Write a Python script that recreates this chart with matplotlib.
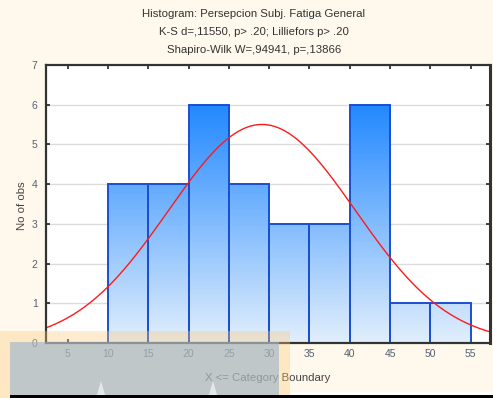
import numpy as np
import matplotlib
matplotlib.use("Agg")
import matplotlib.pyplot as plt
from matplotlib.colors import LinearSegmentedColormap
from matplotlib.patches import Rectangle, Polygon

# ---- data ----
bin_edges = [10, 15, 20, 25, 30, 35, 40, 45, 50, 55]
counts = [4, 4, 6, 4, 3, 3, 6, 1, 1]
fit_mean = 29.1
fit_sd = 11.6
x_ticks = [5, 10, 15, 20, 25, 30, 35, 40, 45, 50, 55]
y_ticks = [0, 1, 2, 3, 4, 5, 6, 7]
title_lines = ["Histogram: Persepcion Subj. Fatiga General",
               "K-S d=,11550, p> .20; Lilliefors p> .20",
               "Shapiro-Wilk W=,94941, p=,13866"]
x_label = "X <= Category Boundary"
y_label = "No of obs"

plt.rcParams['font.family'] = ['Liberation Sans', 'DejaVu Sans']

W, H = 493, 398
fig = plt.figure(figsize=(W / 100, H / 100), dpi=100, facecolor="#fef9ec")
L, R, T, B = 46, 490, 65, 343
ax = fig.add_axes([L / W, 1 - B / H, (R - L) / W, (B - T) / H])
ax.set_facecolor("white")
xmin, xmax = 2.3, 57.4
ax.set_xlim(xmin, xmax)
ax.set_ylim(0, 7)

# gridlines
for yv in y_ticks[1:-1]:
    ax.axhline(yv, color="#dcdcdc", lw=1.0, zorder=0.5)

# gradient bars
cmap = LinearSegmentedColormap.from_list("g", ["#e2effc", "#2288ff"])
grad = np.linspace(0, 1, 256).reshape(-1, 1)
width = bin_edges[1] - bin_edges[0]
for left, c in zip(bin_edges[:-1], counts):
    rect = Rectangle((left, 0), width, c, facecolor="none",
                     edgecolor="#1a4fd0", lw=1.4, zorder=3)
    ax.add_patch(rect)
    im = ax.imshow(grad, extent=[left, left + width, 0, 6], origin="lower",
                   cmap=cmap, aspect="auto", zorder=2, interpolation="bilinear")
    clip = Rectangle((left, 0), width, c, transform=ax.transData)
    im.set_clip_path(clip)
ax.set_xlim(xmin, xmax)
ax.set_ylim(0, 7)

# normal curve
n = sum(counts)
xs = np.linspace(xmin, xmax, 400)
ys = n * width / (fit_sd * np.sqrt(2 * np.pi)) * np.exp(-0.5 * ((xs - fit_mean) / fit_sd) ** 2)
ax.plot(xs, ys, color="#ff1a1a", lw=1.0, zorder=4)

# axes styling
for s in ax.spines.values():
    s.set_color("#333333")
    s.set_linewidth(1.6)
    s.set_zorder(5)
ax.spines["right"].set_linewidth(2.2)
ax.set_xticks(x_ticks)
ax.set_yticks(y_ticks)
ax.tick_params(direction="in", length=3, width=1.2, color="#222222",
               top=True, right=True, labelsize=7.5, labelcolor="#556070")
ax.tick_params(axis="x", pad=4)
ax.tick_params(axis="y", pad=6)

fig.text(268 / W, 1 - 378 / H, x_label, ha="center", va="center",
         fontsize=8.2, color="#444444")
fig.text(22 / W, 1 - 206 / H, y_label, ha="center", va="center",
         rotation=90, fontsize=8.2, color="#444444")
for yy, t in zip([14, 32, 50], title_lines):
    fig.text(254 / W, 1 - yy / H, t, ha="center", va="center",
             fontsize=8.2, color="#333333")

# overlay artifacts at bottom
def frect(x0, y0, x1, y1, **kw):
    fig.patches.append(Rectangle((x0 / W, 1 - y1 / H), (x1 - x0) / W, (y1 - y0) / H,
                                 transform=fig.transFigure, figure=fig, **kw))

frect(290, 392, 493, 396, facecolor="white", edgecolor="none", zorder=9)
frect(0, 331, 290, 398, facecolor="#ffc878", alpha=0.35, edgecolor="none", zorder=10)
frect(10, 342, 279, 396, facecolor="#96b2cd", alpha=0.6, edgecolor="none", zorder=11)
for cx in [101, 213]:
    fig.patches.append(Polygon([((cx - 5) / W, 1 - 398 / H), (cx / W, 1 - 381 / H),
                                ((cx + 5) / W, 1 - 398 / H)], closed=True,
                               transform=fig.transFigure, figure=fig,
                               facecolor="#e4e8ea", edgecolor="none", zorder=12))
frect(10, 395, 493, 398, facecolor="black", edgecolor="none", zorder=13)

fig.savefig("out.png", dpi=100, facecolor=fig.get_facecolor())
